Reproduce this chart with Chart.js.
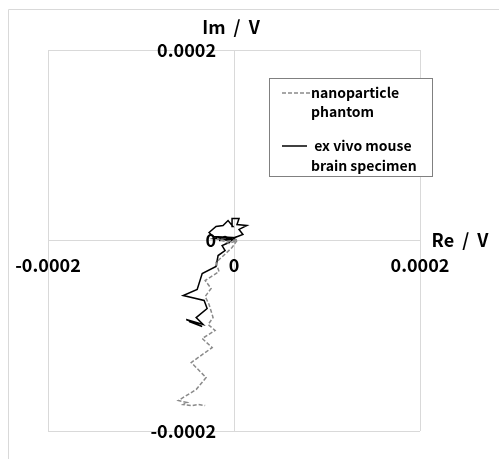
<!DOCTYPE html>
<html lang="en">
<head>
<meta charset="UTF-8">
<title>Re / Im</title>
<script src="https://cdn.jsdelivr.net/npm/chart.js"></script>
<style>
  body { margin: 0; background: #fff; }
  #wrap { position: relative; width: 499px; height: 459px; }
</style>
</head>
<body>
<div id="wrap"><canvas id="c" width="499" height="459"></canvas></div>
<script>
// values (volts)
const phantomRe = [3.2e-6, -7.5e-6, -18.2e-6, -5.3e-6, 3.2e-6, -2.1e-6, -19.3e-6, -16.1e-6, -31.0e-6, -24.6e-6,
  -31.0e-6, -26.8e-6, -22.5e-6, -27.8e-6, -20.3e-6, -34.2e-6, -23.5e-6, -46.0e-6, -30.0e-6, -40.7e-6,
  -59.9e-6, -50.3e-6, -54.6e-6, -44.9e-6, -38.5e-6, -31.0e-6];
const phantomIm = [1.0e-6, -1.0e-6, 2.1e-6, -3.2e-6, 0, -7.4e-6, -23.1e-6, -32.6e-6, -42.0e-6, -50.4e-6,
  -58.8e-6, -67.2e-6, -80.9e-6, -88.2e-6, -94.5e-6, -102.9e-6, -112.4e-6, -128.1e-6, -143.9e-6, -156.5e-6,
  -168.0e-6, -170.1e-6, -172.2e-6, -173.3e-6, -172.2e-6, -173.3e-6];

const brainRe = [1.1e-6, -9.6e-6, -20.3e-6, 2.1e-6, -16.1e-6, -2.1e-6, -22.5e-6, -26.8e-6, -19.3e-6, -11.8e-6,
  -6.4e-6, -1.1e-6, -2.1e-6, 5.4e-6, 3.2e-6, 13.9e-6, 5.4e-6, 9.6e-6, 1.1e-6, -5.4e-6,
  -12.8e-6, -9.6e-6, -17.1e-6, -19.3e-6, -34.2e-6, -39.6e-6, -54.6e-6, -32.1e-6, -28.9e-6, -40.7e-6,
  -33.2e-6, -51.4e-6, -34.2e-6, -48.2e-6, -36.4e-6];
const brainIm = [1.0e-6, 4.2e-6, 2.1e-6, 1.0e-6, 0, 3.2e-6, 4.2e-6, 8.4e-6, 14.7e-6, 15.8e-6,
  21.0e-6, 14.7e-6, 23.1e-6, 23.1e-6, 16.8e-6, 15.8e-6, 11.6e-6, 6.3e-6, 3.2e-6, -2.1e-6,
  -5.3e-6, -10.5e-6, -15.8e-6, -27.3e-6, -34.7e-6, -51.5e-6, -57.8e-6, -63.0e-6, -71.4e-6, -80.9e-6,
  -88.2e-6, -83.0e-6, -90.3e-6, -85.1e-6, -87.2e-6];

const axisTicks = [-0.0002, 0, 0.0002];
const tickLabels = ['-0.0002', '0', '0.0002'];
const seriesNames = [['nanoparticle', 'phantom'], [' ex vivo mouse', 'brain specimen']];
const xTitle = 'Re / V';
const yTitle = 'Im / V';

function toPoints(re, im) {
  return re.map((v, i) => ({ x: v, y: im[i] }));
}

const FONT = 'bold 18px "Noto Sans CJK JP", "Noto Sans", sans-serif';
const LEGEND_FONT = 'bold 14px "Noto Sans CJK JP", "Noto Sans", sans-serif';

// axis labels, titles and the boxed legend
const decor = {
  id: 'decor',
  beforeDraw(chart) {
    const ctx = chart.ctx;
    ctx.save();
    ctx.strokeStyle = '#d9d9d9';
    ctx.lineWidth = 1;
    ctx.beginPath();
    ctx.moveTo(8.5, 459);
    ctx.lineTo(8.5, 9.5);
    ctx.lineTo(499, 9.5);
    ctx.stroke();
    ctx.restore();
  },
  afterDraw(chart) {
    const { ctx, scales: { x, y } } = chart;
    const x0 = x.getPixelForValue(0);
    const y0 = y.getPixelForValue(0);
    ctx.save();
    ctx.fillStyle = '#000';
    ctx.font = FONT;
    ctx.textBaseline = 'middle';

    ctx.textAlign = 'center';
    axisTicks.forEach((v, i) => ctx.fillText(tickLabels[i], x.getPixelForValue(v), y0 + 25));
    ctx.textAlign = 'right';
    axisTicks.forEach((v, i) => ctx.fillText(tickLabels[i], x0 - 18, y.getPixelForValue(v)));

    ctx.textAlign = 'center';
    ctx.wordSpacing = '4px';
    ctx.fillText(yTitle, x0 - 3, 27);
    ctx.fillText(xTitle, 460, y0);
    ctx.wordSpacing = '0px';

    // legend box
    ctx.fillStyle = '#fff';
    ctx.fillRect(269, 78, 163, 98);
    ctx.strokeStyle = '#808080';
    ctx.lineWidth = 1;
    ctx.strokeRect(269.5, 78.5, 163, 98);

    const rows = [[93, 112], [146, 166]];
    chart.data.datasets.forEach((ds, i) => {
      ctx.strokeStyle = ds.borderColor;
      ctx.lineWidth = ds.borderWidth;
      ctx.setLineDash(ds.borderDash || []);
      ctx.beginPath();
      ctx.moveTo(282, rows[i][0]);
      ctx.lineTo(i === 0 ? 311 : 307, rows[i][0]);
      ctx.stroke();
      ctx.setLineDash([]);
      ctx.fillStyle = '#000';
      ctx.font = LEGEND_FONT;
      ctx.textAlign = 'left';
      seriesNames[i].forEach((t, k) => ctx.fillText(t, 311, rows[i][k]));
    });
    ctx.restore();
  }
};

new Chart(document.getElementById('c'), {
  type: 'scatter',
  data: {
    datasets: [
      {
        label: seriesNames[0].join(' '),
        data: toPoints(phantomRe, phantomIm),
        showLine: true,
        borderColor: '#8a8a8a',
        borderWidth: 1.5,
        borderDash: [4, 2],
        pointRadius: 0
      },
      {
        label: seriesNames[1].join(' ').trim(),
        data: toPoints(brainRe, brainIm),
        showLine: true,
        borderColor: '#000000',
        borderWidth: 1.5,
        pointRadius: 0
      }
    ]
  },
  options: {
    responsive: false,
    animation: false,
    layout: { padding: { left: 48, top: 50, right: 79, bottom: 28 } },
    plugins: { legend: { display: false }, tooltip: { enabled: false } },
    scales: {
      x: {
        min: -0.0002, max: 0.0002,
        ticks: { display: false, stepSize: 0.0002 },
        grid: { color: '#d9d9d9', drawTicks: false },
        border: { display: false }
      },
      y: {
        min: -0.0002, max: 0.0002,
        ticks: { display: false, stepSize: 0.0002 },
        grid: { color: '#d9d9d9', drawTicks: false },
        border: { display: false }
      }
    }
  },
  plugins: [decor]
});
</script>
</body>
</html>
